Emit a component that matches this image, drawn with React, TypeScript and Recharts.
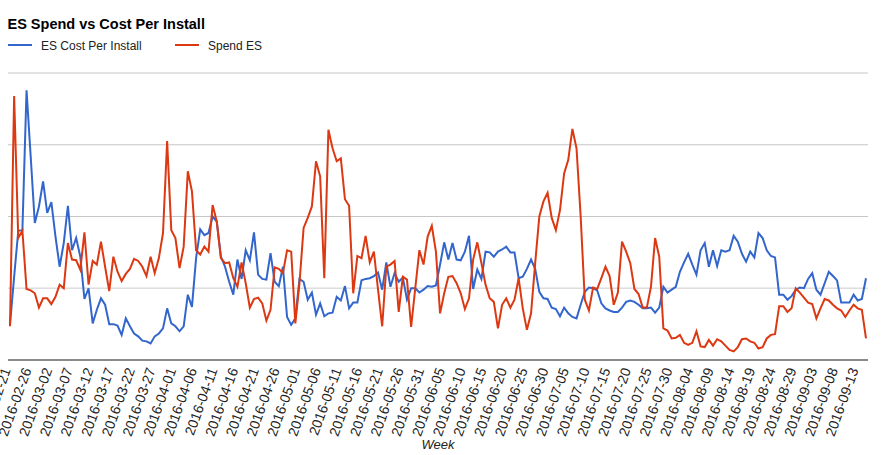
import { LineChart, Line, XAxis, YAxis, CartesianGrid, ReferenceLine } from 'recharts'

const FONT = 'Arial, "Liberation Sans", sans-serif'

const firstDay = '2016-02-21'

// ES Cost Per Install, one point per day (left axis)
const costPerInstall = [
  0.49, 1.16, 1.8, 1.81, 3.76, 2.84, 1.91, 2.14, 2.49, 2.05,
  2.2, 1.72, 1.3, 1.63, 2.15, 1.53, 1.7, 1.44, 0.85, 1.0,
  0.51, 0.7, 0.86, 0.77, 0.5, 0.5, 0.48, 0.35, 0.58, 0.47,
  0.37, 0.33, 0.27, 0.26, 0.23, 0.33, 0.37, 0.44, 0.72, 0.51,
  0.47, 0.4, 0.47, 0.91, 0.74, 1.42, 1.82, 1.74, 1.77, 2.0,
  1.93, 1.44, 1.3, 1.09, 0.91, 1.4, 1.13, 1.53, 1.39, 1.78,
  1.19, 1.13, 1.12, 1.49, 1.09, 1.03, 1.3, 0.6, 0.49, 0.58,
  1.13, 1.09, 0.84, 0.94, 0.63, 0.79, 0.61, 0.65, 0.66, 0.88,
  0.83, 1.03, 0.72, 0.8, 0.8, 1.11, 1.13, 1.14, 1.17, 1.22,
  0.98, 1.36, 1.02, 1.21, 1.09, 1.15, 0.84, 1.0, 1.0, 0.94,
  0.98, 1.03, 1.02, 1.04, 1.33, 1.64, 1.4, 1.63, 1.4, 1.39,
  1.51, 1.73, 0.99, 1.26, 1.13, 1.51, 1.5, 1.44, 1.51, 1.54,
  1.58, 1.5, 1.5, 1.14, 1.16, 1.27, 1.4, 1.27, 0.95, 0.86,
  0.85, 0.73, 0.71, 0.61, 0.73, 0.65, 0.6, 0.58, 0.77, 0.95,
  1.01, 1.0, 0.97, 0.79, 0.72, 0.69, 0.67, 0.67, 0.73, 0.81,
  0.83, 0.81, 0.77, 0.72, 0.72, 0.73, 0.66, 0.73, 1.02, 0.94,
  0.98, 1.02, 1.23, 1.36, 1.48, 1.33, 1.19, 1.53, 1.63, 1.3,
  1.53, 1.31, 1.53, 1.51, 1.53, 1.73, 1.65, 1.48, 1.37, 1.51,
  1.43, 1.77, 1.7, 1.53, 1.45, 1.43, 0.91, 0.91, 0.84, 0.89,
  0.98, 1.01, 1.0, 1.13, 1.21, 0.98, 0.91, 1.07, 1.23, 1.17,
  1.11, 0.8, 0.8, 0.8, 0.91, 0.83, 0.85, 1.14,
]

// Spend ES, one point per day (right axis)
const spendES = [
  47, 368, 170, 180, 99, 97, 93, 73, 86, 86,
  78, 88, 105, 100, 163, 140, 139, 126, 178, 105,
  138, 133, 165, 130, 96, 144, 123, 110, 120, 127,
  141, 138, 130, 117, 144, 121, 142, 177, 305, 181,
  170, 128, 158, 263, 235, 153, 147, 158, 151, 216,
  193, 142, 135, 136, 114, 102, 136, 107, 73, 85,
  87, 79, 55, 70, 129, 127, 121, 153, 151, 51,
  107, 184, 198, 214, 277, 256, 114, 321, 295, 277,
  281, 224, 215, 93, 145, 142, 173, 136, 151, 98,
  47, 130, 133, 138, 67, 116, 112, 46, 100, 153,
  133, 172, 187, 151, 65, 93, 116, 117, 107, 93,
  71, 86, 140, 164, 135, 105, 86, 81, 44, 77,
  86, 73, 84, 114, 72, 42, 65, 135, 200, 221,
  233, 198, 181, 209, 260, 279, 322, 295, 200, 84,
  69, 101, 99, 114, 130, 117, 77, 94, 165, 151,
  135, 99, 92, 73, 73, 102, 170, 144, 44, 41,
  30, 31, 35, 24, 21, 24, 40, 19, 18, 28,
  20, 29, 26, 20, 14, 12, 18, 29, 30, 26,
  24, 16, 18, 30, 35, 36, 75, 75, 67, 72,
  100, 94, 87, 80, 78, 58, 72, 85, 83, 77,
  72, 69, 60, 69, 77, 72, 70, 30,
]

const cpiTicks = [0, 1, 2, 3, 4]
const spendDomain = [0, 400]

const series = [
  { key: 'cpi', name: 'ES Cost Per Install', color: '#3366cc', axis: 'left' },
  { key: 'spend', name: 'Spend ES', color: '#dc3912', axis: 'right' },
]

function dayLabels(start: string, count: number) {
  const out: string[] = []
  const d = new Date(start + 'T00:00:00Z')
  for (let i = 0; i < count; i++) {
    out.push(d.toISOString().slice(0, 10))
    d.setUTCDate(d.getUTCDate() + 1)
  }
  return out
}

const days = dayLabels(firstDay, costPerInstall.length)
const rows = days.map((day, i) => ({ day, cpi: costPerInstall[i], spend: spendES[i] }))

function DayTick({ x, y, payload }: any) {
  return (
    <text
      transform={`translate(${x + 1},${y + 10}) rotate(-70)`}
      textAnchor="end"
      fontSize={14}
      fontFamily={FONT}
      fill="#222"
    >
      {payload.value}
    </text>
  )
}

export default function App() {
  return (
    <div style={{ position: 'absolute', left: 0, top: 0, width: 881, height: 455, background: '#fff' }}>
      <LineChart
        width={881}
        height={455}
        data={rows}
        margin={{ top: 73, right: 13, bottom: 6, left: 8 }}
      >
        <CartesianGrid yAxisId="left" vertical={false} stroke="#c6c6c6" />
        <XAxis
          dataKey="day"
          interval={4}
          tick={<DayTick />}
          tickLine={false}
          tickSize={0}
          tickMargin={0}
          axisLine={{ stroke: '#333' }}
          height={89}
          padding={{ left: 2, right: 2 }}
          label={{
            value: 'Week',
            position: 'insideBottom',
            offset: 0,
            fontSize: 13,
            fontStyle: 'italic',
            fontFamily: FONT,
            fill: '#222',
          }}
        />
        <YAxis yAxisId="left" hide domain={[0, 4]} ticks={cpiTicks} />
        <YAxis yAxisId="right" orientation="right" hide domain={spendDomain} />
        <ReferenceLine yAxisId="left" y={1} stroke="#e0e0e0" />
        {series.map((s) => (
          <Line
            key={s.key}
            yAxisId={s.axis}
            type="linear"
            dataKey={s.key}
            name={s.name}
            stroke={s.color}
            strokeWidth={2}
            dot={false}
            activeDot={false}
            isAnimationActive={false}
          />
        ))}
      </LineChart>

      {/* title and legend */}
      <svg width={881} height={60} style={{ position: 'absolute', left: 0, top: 0 }}>
        <text x={7.5} y={29} fontFamily={FONT} fontSize={14.5} fontWeight="bold" fill="#000">
          ES Spend vs Cost Per Install
        </text>
        {series.map((s, i) => {
          const x0 = i === 0 ? 8 : 175
          return (
            <g key={s.key}>
              <line x1={x0} x2={x0 + 24} y1={45} y2={45} stroke={s.color} strokeWidth={2} />
              <text x={x0 + 33} y={49.5} fontFamily={FONT} fontSize={12} fill="#222">
                {s.name}
              </text>
            </g>
          )
        })}
      </svg>
    </div>
  )
}
